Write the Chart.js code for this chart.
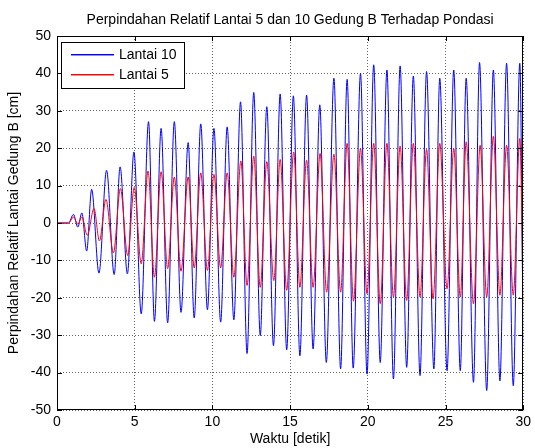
<!DOCTYPE html>
<html>
<head>
<meta charset="utf-8">
<script src="https://cdn.jsdelivr.net/npm/chart.js@4.4.1/dist/chart.umd.min.js"></script>
<style>
  html, body { margin: 0; padding: 0; background: #fff; }
  canvas { display: block; }
</style>
</head>
<body>
<canvas id="chart" width="535" height="448"></canvas>
<script>
// peaks / troughs (waktu in detik, values in cm)
const waktu10 = [0, 0.74, 1.06, 1.34, 1.6, 1.91, 2.23, 2.7, 3.19, 3.68, 4.06, 4.53, 4.95,
  5.42, 5.89, 6.27, 6.7, 7.12, 7.55, 7.98, 8.44, 8.83, 9.25,
  9.68, 10.1, 10.53, 10.95, 11.38, 11.81, 12.23, 12.66, 13.08, 13.5,
  13.93, 14.36, 14.78, 15.21, 15.63, 16.06, 16.48, 16.91, 17.33, 17.82,
  18.25, 18.67, 19.06, 19.53, 19.95, 20.38, 20.8, 21.23, 21.65, 22.08,
  22.5, 22.93, 23.36, 23.78, 24.25, 24.63, 25.1, 25.53, 25.95, 26.33,
  26.8, 27.19, 27.65, 28.08, 28.5, 28.93, 29.36, 29.78, 30];
const lantai10 = [0, 0, 2.3, -1.1, 2.7, -7.5, 9, -13.4, 14.1, -13.8, 15, -13.6, 19,
  -24.3, 27.1, -26.3, 25.3, -26.7, 27.1, -23.9, 21.5, -25.4, 26.5,
  -23.2, 25.3, -26.5, 25.7, -25.9, 32.4, -34.9, 34.9, -30.1, 31.1,
  -32.8, 34.5, -33.9, 34, -35.5, 34.2, -33.7, 31.6, -37.3, 38.7,
  -39, 38.4, -38.8, 40, -40.4, 42.3, -37.3, 40.9, -41.7, 42,
  -38.6, 39.3, -40.8, 40.5, -39, 38.7, -39.5, 40.9, -39.5, 38.7,
  -42.6, 42.9, -44.8, 40.9, -42.2, 42.7, -43.5, 42.7, -33];

const waktu5 = [0, 0.74, 1.06, 1.34, 1.6, 1.95, 2.38, 2.73, 3.15, 3.63, 4.08, 4.55, 4.97,
  5.42, 5.86, 6.27, 6.7, 7.12, 7.55, 7.98, 8.44, 8.83, 9.25,
  9.68, 10.1, 10.53, 10.95, 11.38, 11.83, 12.23, 12.66, 13.08, 13.5,
  13.95, 14.36, 14.78, 15.23, 15.63, 16.06, 16.48, 16.93, 17.35, 17.82,
  18.25, 18.67, 19.08, 19.53, 19.95, 20.38, 20.8, 21.23, 21.65, 22.08,
  22.5, 22.93, 23.36, 23.78, 24.2, 24.63, 25.1, 25.53, 25.95, 26.33,
  26.8, 27.23, 27.65, 28.08, 28.5, 28.93, 29.36, 29.78, 30];
const lantai5 = [0, 0, 1.6, -0.3, 1.6, -3.3, 3.9, -4.8, 6.3, -8, 9.2, -8.7, 9.5,
  -10.9, 13.9, -14.5, 13.7, -12.2, 12.3, -12.9, 12.3, -12, 13.4,
  -12.7, 13, -12, 13.4, -14.5, 16.6, -16.7, 17.9, -17.2, 16.4,
  -15.4, 17, -18, 19, -17.2, 16.8, -17.2, 18.6, -18.5, 18.4,
  -18.5, 21.3, -20.9, 19.9, -18.9, 21.3, -21.6, 21.3, -19.8, 20.6,
  -20.7, 21.3, -19.8, 19.7, -20.3, 21.3, -17.6, 19.9, -19.8, 21.7,
  -21.6, 20.8, -19.8, 23.2, -19.3, 20.8, -19.3, 22.6, -22];

const namaSeri = ['Lantai 10', 'Lantai 5'];
const warnaSeri = ['#0000ff', '#ff0000'];

const judul = 'Perpindahan Relatif Lantai 5 dan 10 Gedung B Terhadap Pondasi';
const labelX = 'Waktu [detik]';
const labelY = 'Perpindahan Relatif Lantai Gedung B [cm]';

const FONT = 'Liberation Sans, Arial, Helvetica, sans-serif';
const FSIZE = 14;

const toPoints = (xs, ys) => xs.map((t, i) => ({ x: t, y: ys[i] }));

// box, inward ticks, title and legend in the matlab look
const matlabFrame = {
  id: 'matlabFrame',
  afterDraw(chart) {
    const { ctx, chartArea: a, scales: { x, y } } = chart;
    ctx.save();
    ctx.strokeStyle = '#000';
    ctx.lineWidth = 1;
    ctx.beginPath();
    x.ticks.forEach(t => {
      const px = Math.round(x.getPixelForValue(t.value)) + 0.5;
      ctx.moveTo(px, a.bottom); ctx.lineTo(px, a.bottom - 5);
      ctx.moveTo(px, a.top); ctx.lineTo(px, a.top + 5);
    });
    y.ticks.forEach(t => {
      const py = Math.round(y.getPixelForValue(t.value)) + 0.5;
      ctx.moveTo(a.left, py); ctx.lineTo(a.left + 5, py);
      ctx.moveTo(a.right, py); ctx.lineTo(a.right - 5, py);
    });
    ctx.stroke();
    ctx.strokeRect(Math.round(a.left) + 0.5, Math.round(a.top) + 0.5,
      Math.round(a.width) - 1, Math.round(a.height) - 1);

    // title
    ctx.fillStyle = '#000';
    ctx.font = FSIZE + 'px ' + FONT;
    ctx.textAlign = 'center';
    ctx.textBaseline = 'middle';
    ctx.fillText(judul, (a.left + a.right) / 2, 20);

    // legend
    const lx = 61, ly = 42, lw = 123, lh = 46;
    ctx.fillStyle = '#fff';
    ctx.fillRect(lx, ly, lw, lh);
    ctx.strokeStyle = '#000';
    ctx.strokeRect(lx + 0.5, ly + 0.5, lw, lh);
    ctx.textAlign = 'left';
    for (let i = 0; i < namaSeri.length; i++) {
      const yy = ly + 12 + i * 20;
      ctx.fillStyle = warnaSeri[i];
      ctx.fillRect(lx + 10, yy, 43, 1);
      ctx.globalAlpha = 0.45;
      ctx.fillRect(lx + 10, yy + 1, 43, 1);
      ctx.globalAlpha = 1;
      ctx.fillStyle = '#000';
      ctx.fillText(namaSeri[i], lx + 58, yy + 1);
    }
    ctx.restore();
  }
};

new Chart(document.getElementById('chart'), {
  type: 'line',
  data: {
    datasets: [
      {
        label: namaSeri[0],
        data: toPoints(waktu10, lantai10),
        borderColor: warnaSeri[0],
        borderWidth: 1,
        pointRadius: 0,
        cubicInterpolationMode: 'monotone',
        order: 1
      },
      {
        label: namaSeri[1],
        data: toPoints(waktu5, lantai5),
        borderColor: warnaSeri[1],
        borderWidth: 1,
        pointRadius: 0,
        cubicInterpolationMode: 'monotone',
        order: 0
      }
    ]
  },
  options: {
    responsive: false,
    animation: false,
    layout: { padding: { top: 36, right: 8, left: 0, bottom: 0 } },
    plugins: {
      legend: { display: false },
      title: { display: false },
      tooltip: { enabled: false }
    },
    scales: {
      x: {
        type: 'linear',
        min: 0,
        max: 30,
        afterFit: s => { s.height = 38; },
        ticks: { stepSize: 5, color: '#000', padding: 4, font: { family: FONT, size: FSIZE } },
        grid: { color: 'rgba(0,0,0,0.6)', drawTicks: false },
        border: { display: false, dash: [1, 2] },
        title: { display: true, text: labelX, color: '#000', padding: { top: 0, bottom: 0 }, font: { family: FONT, size: FSIZE } }
      },
      y: {
        min: -50,
        max: 50,
        afterFit: s => { s.width = 57; },
        ticks: { stepSize: 10, color: '#000', padding: 6, font: { family: FONT, size: FSIZE } },
        grid: { color: 'rgba(0,0,0,0.6)', drawTicks: false },
        border: { display: false, dash: [1, 2] },
        title: { display: true, text: labelY, color: '#000', padding: { top: 6, bottom: 0 }, font: { family: FONT, size: FSIZE } }
      }
    }
  },
  plugins: [matlabFrame]
});
</script>
</body>
</html>
